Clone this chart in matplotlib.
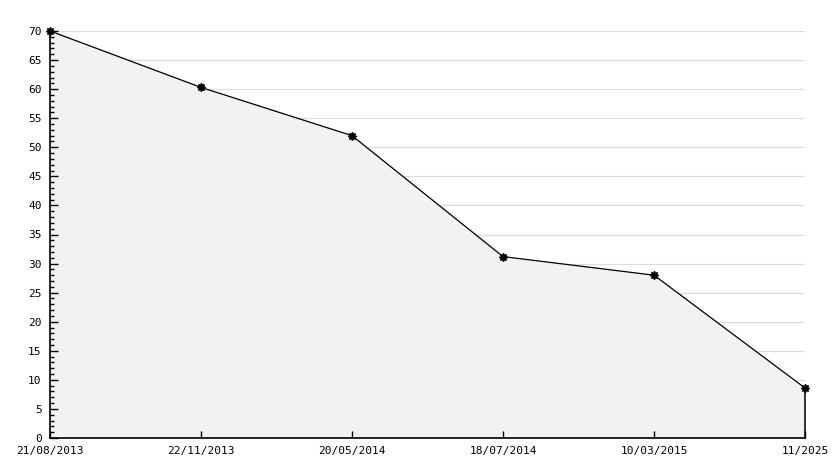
import matplotlib
matplotlib.use('Agg')
import matplotlib.pyplot as plt
from matplotlib.ticker import MultipleLocator

dates = ['21/08/2013', '22/11/2013', '20/05/2014', '18/07/2014', '10/03/2015', '11/2025']
values = [70, 60.3, 52, 31.2, 28, 8.6]

fig = plt.figure(figsize=(8.34, 4.68), dpi=100)
ax = fig.add_axes([50 / 834, 30 / 468, 755 / 834, 407 / 468])

x = list(range(len(dates)))
ax.fill_between(x, values, 0, color='#f2f2f2', zorder=1)
ax.plot(x, values, color='black', lw=0.9, zorder=3, clip_on=False)
ax.plot(x, values, ls='none', marker=(8, 1, 0), ms=6, color='black', zorder=5, clip_on=False)
ax.plot([x[-1], x[-1]], [0, values[-1]], color='black', lw=1.1, zorder=4, clip_on=False)

ax.set_xlim(0, len(dates) - 1)
ax.set_ylim(0, 70)
ax.yaxis.set_major_locator(MultipleLocator(5))
ax.yaxis.set_minor_locator(MultipleLocator(1))
ax.set_xticks(x)
ax.set_xticklabels(dates)

for v in range(5, 75, 5):
    ax.axhline(v, color='#dddddd', lw=0.9, zorder=0)

for s in ['top', 'right']:
    ax.spines[s].set_visible(False)
ax.spines['left'].set_linewidth(1.2)
ax.spines['bottom'].set_linewidth(1.2)

ax.tick_params(axis='y', which='major', direction='in', length=6, width=1, pad=6, labelsize=8)
ax.tick_params(axis='y', which='minor', direction='in', length=3, width=1)
ax.tick_params(axis='x', which='major', direction='in', length=5, width=1, pad=6, labelsize=8)
for lab in ax.get_xticklabels() + ax.get_yticklabels():
    lab.set_family('DejaVu Sans Mono')

fig.savefig('out.png', dpi=100, facecolor='white')
